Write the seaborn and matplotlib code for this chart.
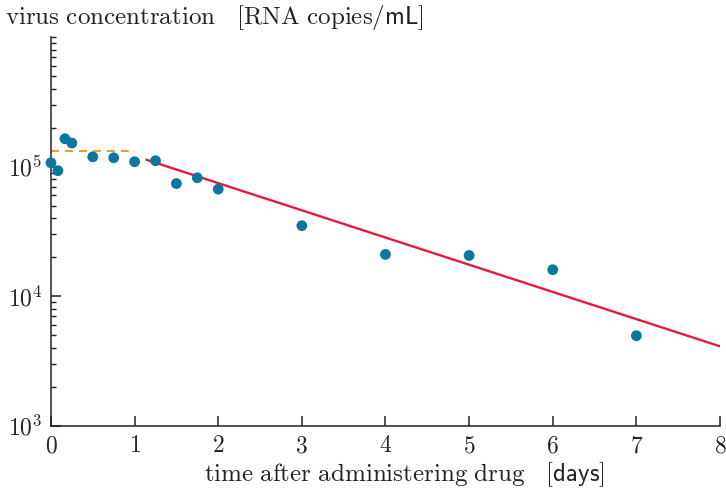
import matplotlib
matplotlib.use('Agg')
import matplotlib.pyplot as plt
import seaborn as sns
import numpy as np
import pandas as pd
from matplotlib.ticker import FixedLocator, FixedFormatter

# measured virus load after drug (days, RNA copies/mL)
days = [0, 0.083, 0.167, 0.25, 0.5, 0.75, 1.0, 1.25, 1.5, 1.75, 2, 3, 4, 5, 6, 7]
virus = [1.07e5, 9.3e4, 1.64e5, 1.52e5, 1.19e5, 1.17e5, 1.09e5, 1.11e5,
         7.4e4, 8.2e4, 6.7e4, 3.5e4, 2.1e4, 2.06e4, 1.6e4, 4.95e3]

# plateau before decay (orange dashed)
plateau_t = [0, 1]
plateau_v = [1.32e5, 1.32e5]

# exponential decay fit (red)
fit_t = [1.14, 8]
fit_v = [1.13e5, 4.1e3]

xticks = [0, 1, 2, 3, 4, 5, 6, 7, 8]
xtick_labels = [f"${t}$" for t in xticks]
ymajor = [1e3, 1e4, 1e5]
ymajor_labels = [r"$10^3$", r"$10^4$", r"$10^5$"]

sns.set_style("ticks")
plt.rcParams['mathtext.fontset'] = 'cm'
plt.rcParams['font.family'] = ['DejaVu Serif']

fig = plt.figure(figsize=(7.26, 4.91), dpi=100)
ax = fig.add_axes([0.0702, 0.133, 0.9215, 0.7915])

sns.lineplot(x=plateau_t, y=plateau_v, ax=ax, color="#f39c2b", lw=1.5,
             dashes=False, linestyle=(0, (3.8, 2.9)))
sns.lineplot(x=fit_t, y=fit_v, ax=ax, color="#e8193c", lw=1.7)
sns.scatterplot(x=days, y=virus, ax=ax, color="#0a77a1", s=60,
                edgecolor="none", zorder=3, clip_on=False)

ax.set_yscale("log")
ax.set_xlim(0, 8)
ax.set_ylim(1e3, 1e6)

ax.xaxis.set_major_locator(FixedLocator(xticks))
ax.xaxis.set_major_formatter(FixedFormatter(xtick_labels))
ax.yaxis.set_major_locator(FixedLocator(ymajor))
ax.yaxis.set_major_formatter(FixedFormatter(ymajor_labels))
minors = [m * 10**d for d in (3, 4, 5) for m in range(2, 10)] + [1e6]
ax.yaxis.set_minor_locator(FixedLocator(minors))
ax.yaxis.set_minor_formatter(FixedFormatter([""] * len(minors)))

ax.tick_params(axis="both", which="major", direction="in", length=7,
               width=1.1, labelsize=17, pad=6, color="#222222")
ax.tick_params(axis="y", which="minor", direction="in", length=3.3,
               width=1.0, color="#222222")
ax.tick_params(axis="x", which="minor", bottom=False)

for side in ("top", "right"):
    ax.spines[side].set_visible(False)
for side in ("left", "bottom"):
    ax.spines[side].set_linewidth(1.1)
    ax.spines[side].set_color("#222222")

ax.set_xlabel(r"$\mathrm{time\ after\ administering\ drug}\ \ \ [\mathsf{days}]$",
              fontsize=18, color="#222222", va="center")
ax.xaxis.set_label_coords(0.529, -0.127)
ax.set_ylabel(r"$\mathrm{virus\ concentration}\ \ \ [\mathrm{RNA\ copies}/\mathsf{mL}]$",
              fontsize=18, rotation=0, ha="left", va="center", color="#222222")
ax.yaxis.set_label_coords(-0.069, 1.051)

fig.savefig("out.png", dpi=100)
